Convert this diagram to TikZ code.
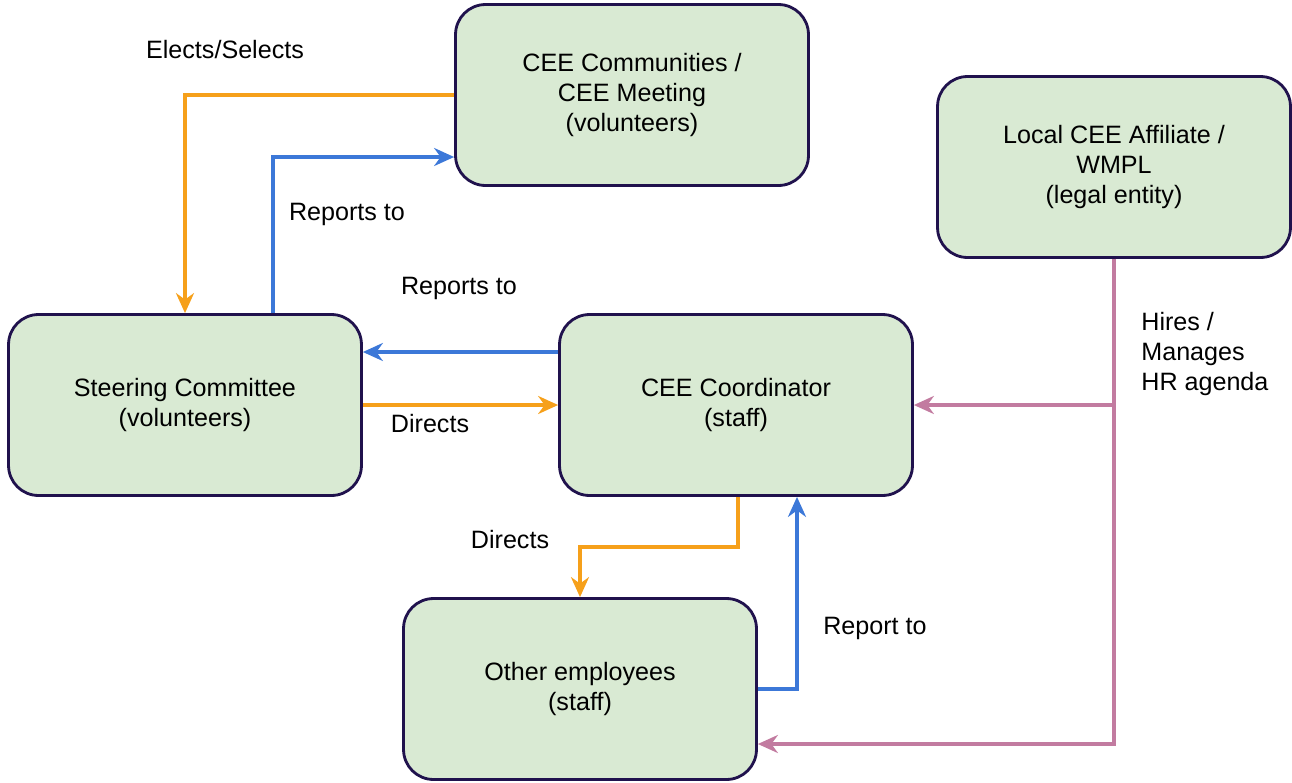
\documentclass[tikz,border=0pt]{standalone}
\usepackage{fontspec}
\setmainfont{Liberation Sans}
\usetikzlibrary{arrows.meta,calc}
\definecolor{boxfill}{HTML}{D9EAD3}
\definecolor{boxline}{HTML}{20124D}
\definecolor{orng}{HTML}{F6A01A}
\definecolor{blu}{HTML}{3C78D8}
\definecolor{pnk}{HTML}{C27BA0}
\tikzset{
    unit/.style={draw=boxline, fill=boxfill, line width=1.6pt, rounded corners=0.6cm,
        minimum width=7.06cm, minimum height=3.62cm, align=center,
        font=\fontsize{14.3}{16.9}\selectfont},
    lbl/.style={font=\fontsize{14.3}{16.9}\selectfont, inner sep=0pt},
    link/.style={line width=2.2pt, -{Stealth[length=0.4cm, width=0.36cm, inset=0.13cm]}},
}
\begin{document}
\begin{tikzpicture}[x=0.02cm, y=-0.02cm]
    \useasboundingbox (0,0) rectangle (1292,782);
    % units
    \node[unit] (comm)  at (632,95)   {CEE Communities /\\CEE Meeting\\(volunteers)};
    \node[unit] (aff)   at (1114,167) {Local CEE Affiliate /\\WMPL\\(legal entity)};
    \node[unit] (steer) at (185,405)  {Steering Committee\\(volunteers)};
    \node[unit] (coord) at (736,405)  {CEE Coordinator\\(staff)};
    \node[unit] (other) at (580,689)  {Other employees\\(staff)};
    % connectors
    \draw[link, orng] (comm.west) -| (steer.north);
    \draw[link, blu] ($(steer.north)+(88,0)$) |- ($(comm.west)+(0,62)$);
    \draw[link, blu] ($(coord.west)+(0,-53)$) -- ($(steer.east)+(0,-53)$);
    \draw[link, orng] (steer.east) -- (coord.west);
    \draw[link, orng] ($(coord.south)+(2,0)$) |- ($(coord.south)!0.5!(other.north)$) -| (other.north);
    \draw[link, blu] (other.east) -| ($(coord.south)+(61,0)$);
    \draw[link, pnk] (aff.south) |- (coord.east);
    \draw[link, pnk] (aff.south) |- ($(other.east)+(0,55)$);
    % labels
    \node[lbl] (elects)   at (225,50)  {Elects/Selects};
    \node[lbl] (rep1)     at (347,214) {Reports to};
    \node[lbl] (rep2)     at (459,288) {Reports to};
    \node[lbl] (dir1)     at (430,424) {Directs};
    \node[lbl] (dir2)     at (510,540) {Directs};
    \node[lbl] (rep3)     at (875,628) {Report to};
    \node[lbl, align=left, anchor=west] (hires) at (1141,354) {Hires /\\Manages\\HR agenda};
\end{tikzpicture}
\end{document}
